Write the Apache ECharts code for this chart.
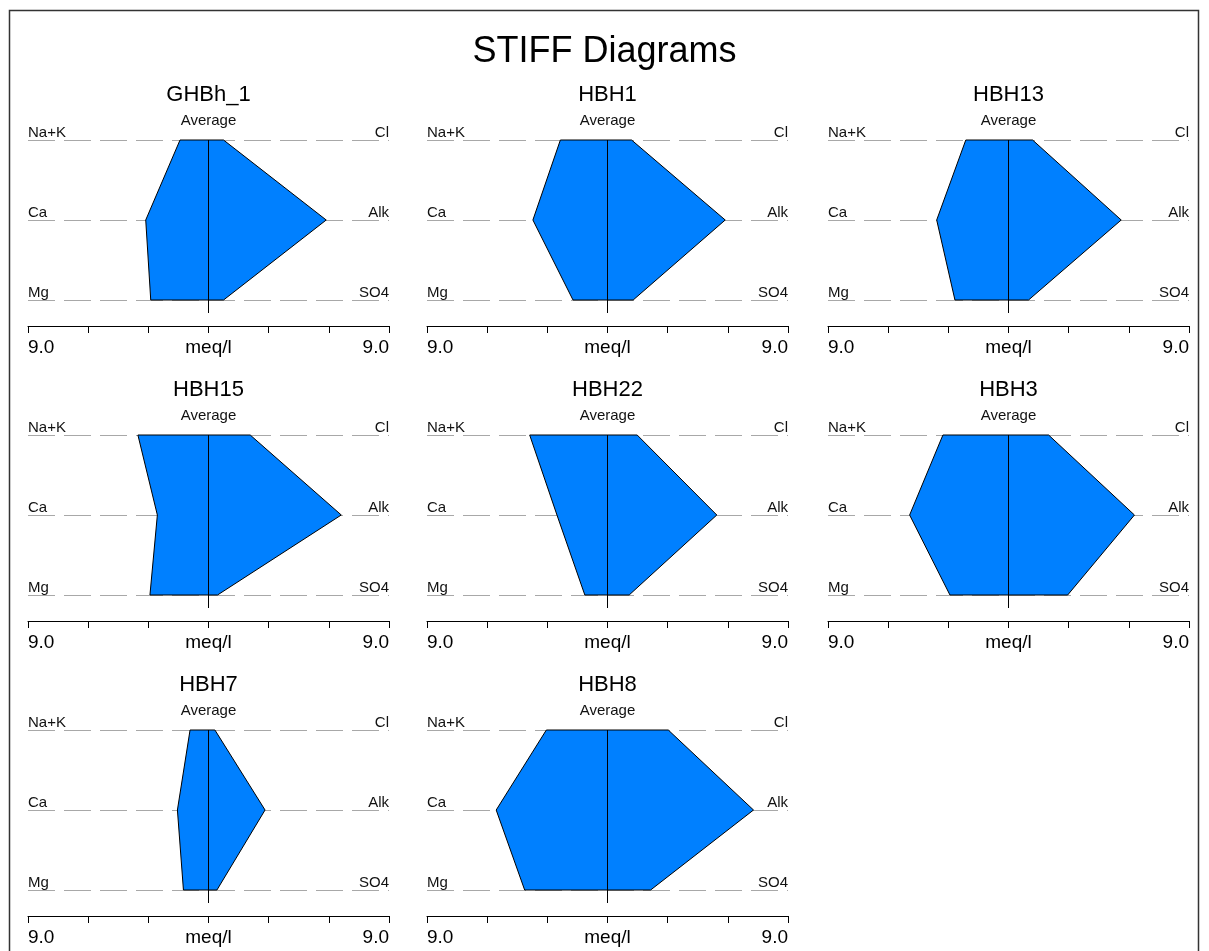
<!DOCTYPE html>
<html>
<head>
<meta charset="utf-8">
<title>STIFF Diagrams</title>
<script src="https://cdn.jsdelivr.net/npm/echarts@6.0.0/dist/echarts.min.js"></script>
<style>
html, body { margin: 0; padding: 0; background: #fff; }
#main { width: 1209px; height: 951px; }
</style>
</head>
<body>
<div id="main"></div>
<script>
// average ion concentrations (meq/l) per well
var wells = ['GHBh_1', 'HBH1', 'HBH13', 'HBH15', 'HBH22', 'HBH3', 'HBH7', 'HBH8'];
var naK = [1.42, 2.35, 2.13, 3.52, 3.88, 3.27, 0.92, 3.05];
var ca  = [3.13, 3.72, 3.58, 2.55, 2.52, 4.93, 1.55, 5.55];
var mg  = [2.88, 1.72, 2.67, 2.92, 1.13, 2.92, 1.25, 4.13];
var cl  = [0.75, 1.20, 1.20, 2.08, 1.48, 2.00, 0.32, 3.03];
var alk = [5.87, 5.87, 5.62, 6.62, 5.45, 6.28, 2.82, 7.28];
var so4 = [0.75, 1.28, 1.00, 0.45, 1.08, 2.95, 0.42, 2.15];

var cationLabels = ['Na+K', 'Ca', 'Mg'];
var anionLabels = ['Cl', 'Alk', 'SO4'];
var axisMax = 9;
var tickStep = 3;

var myChart = echarts.init(document.getElementById('main'));
var font = 'Liberation Sans, Arial, sans-serif';

var colLeft = [28, 427, 828];
var rowTop = [140, 435, 730];
var panelW = 361, panelH = 160;

var grids = [], xAxes = [], yAxes = [], series = [];
var titles = [{
    text: 'STIFF Diagrams',
    left: 'center',
    top: 29,
    textStyle: { fontSize: 36, fontWeight: 'normal', color: '#000', fontFamily: font }
}];

wells.forEach(function (name, i) {
    var r = Math.floor(i / 3), c = i % 3;
    var left = colLeft[c], top = rowTop[r];

    titles.push({
        text: name,
        subtext: 'Average',
        left: left + panelW / 2 - 5,
        top: top - 61,
        textAlign: 'center',
        itemGap: 7,
        textStyle: { fontSize: 22, fontWeight: 'normal', color: '#000', fontFamily: font },
        subtextStyle: { fontSize: 15, color: '#111', fontFamily: font }
    });

    grids.push({ left: left, top: top, width: panelW, height: panelH, outerBoundsMode: 'none' });

    xAxes.push({
        gridIndex: i,
        type: 'value',
        min: -axisMax,
        max: axisMax,
        interval: tickStep,
        position: 'bottom',
        offset: 26,
        axisLine: { show: true, onZero: false, lineStyle: { color: '#000', width: 1 } },
        axisTick: { show: true, length: 7, lineStyle: { color: '#000' } },
        splitLine: { show: false },
        axisLabel: {
            margin: 12,
            fontSize: 19,
            color: '#000',
            fontFamily: font,
            showMinLabel: true,
            showMaxLabel: true,
            alignMinLabel: 'left',
            alignMaxLabel: 'right',
            formatter: function (v) {
                if (Math.abs(v) === axisMax) return axisMax.toFixed(1);
                if (v === 0) return 'meq/l';
                return '';
            }
        }
    });

    // cations on the left, with the dashed row lines
    yAxes.push({
        gridIndex: i,
        type: 'value',
        min: 0,
        max: 2,
        interval: 1,
        inverse: true,
        position: 'left',
        axisLine: { show: false },
        axisTick: { show: false },
        splitLine: { show: true, lineStyle: { color: '#a8a8a8', width: 1, type: [27, 9] } },
        axisLabel: {
            inside: true,
            margin: 0,
            verticalAlign: 'bottom',
            fontSize: 15,
            color: '#111',
            fontFamily: font,
            formatter: function (v) { return cationLabels[v]; }
        }
    });
    // anions on the right
    yAxes.push({
        gridIndex: i,
        type: 'value',
        min: 0,
        max: 2,
        interval: 1,
        inverse: true,
        position: 'right',
        axisLine: { show: false },
        axisTick: { show: false },
        splitLine: { show: false },
        axisLabel: {
            inside: true,
            margin: 0,
            verticalAlign: 'bottom',
            fontSize: 15,
            color: '#111',
            fontFamily: font,
            formatter: function (v) { return anionLabels[v]; }
        }
    });

    series.push({
        name: name,
        type: 'custom',
        xAxisIndex: i,
        yAxisIndex: 2 * i,
        data: [[i]],
        silent: true,
        renderItem: function (params, api) {
            var k = api.value(0);
            var pts = [
                api.coord([-naK[k], 0]),
                api.coord([cl[k], 0]),
                api.coord([alk[k], 1]),
                api.coord([so4[k], 2]),
                api.coord([-mg[k], 2]),
                api.coord([-ca[k], 1])
            ];
            var p0 = api.coord([0, 0]);
            var p1 = api.coord([0, 2]);
            return {
                type: 'group',
                children: [
                    { type: 'polygon', shape: { points: pts }, style: { fill: '#0080ff', stroke: '#000', lineWidth: 1 } },
                    { type: 'line', shape: { x1: p0[0], y1: p0[1], x2: p1[0], y2: p1[1] + 13 }, style: { stroke: '#000', lineWidth: 1 } }
                ]
            };
        }
    });
});

option = {
    backgroundColor: '#fff',
    animation: false,
    title: titles,
    graphic: [{
        type: 'rect',
        shape: { x: 9.5, y: 10.5, width: 1189, height: 980 },
        style: { fill: 'none', stroke: '#333', lineWidth: 1.5 },
        silent: true
    }],
    grid: grids,
    xAxis: xAxes,
    yAxis: yAxes,
    series: series
};

myChart.setOption(option);
</script>
</body>
</html>
